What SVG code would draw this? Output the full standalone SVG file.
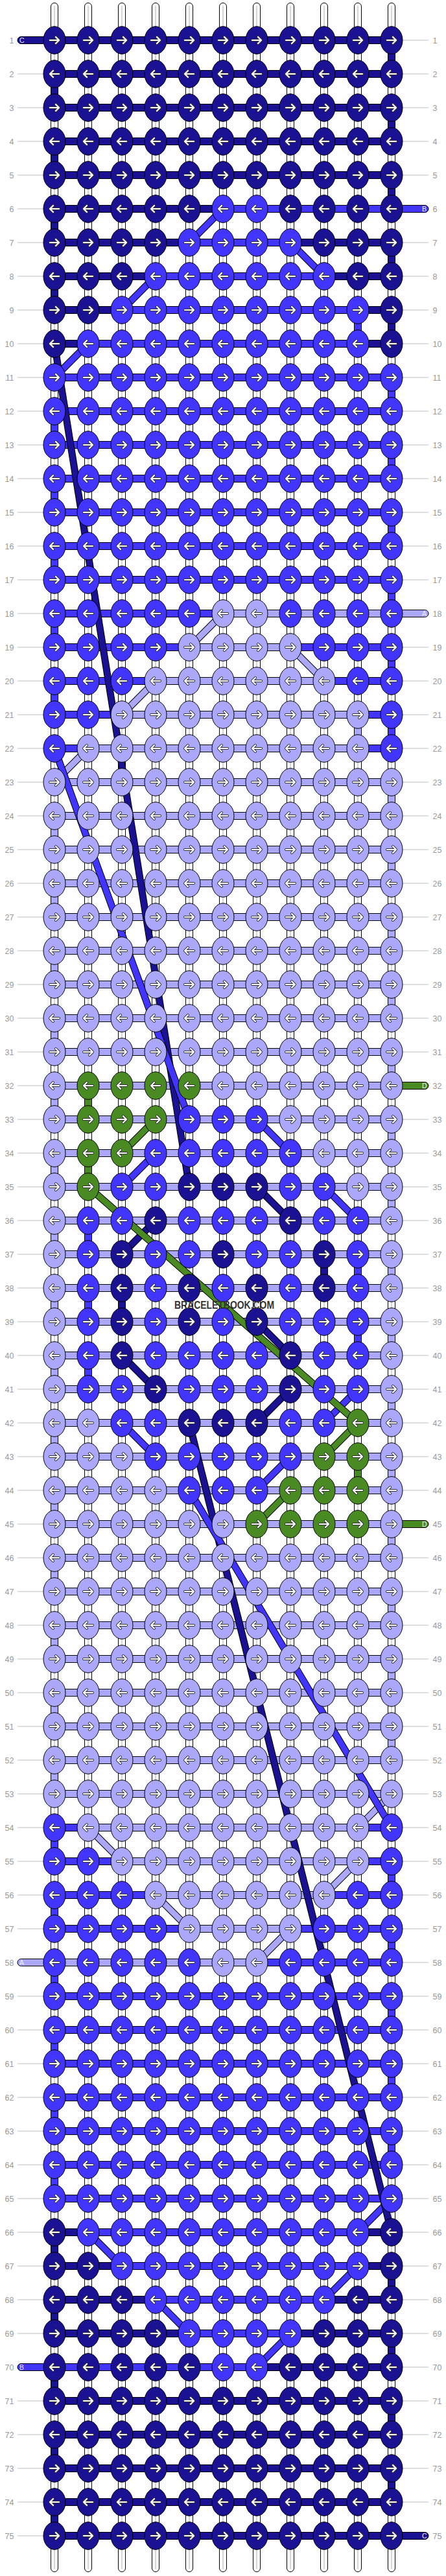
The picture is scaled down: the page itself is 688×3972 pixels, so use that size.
<svg xmlns="http://www.w3.org/2000/svg" width="688" height="3972" viewBox="0 0 688 3972">
<style>
.n{fill:#1b1193}.b{fill:#4236fe}.a{fill:#aba7fa}.d{fill:#4a8a22}
.ol{stroke:#000;stroke-width:11;fill:none}
.cn{stroke:#1b1193;stroke-width:9;fill:none}.cb{stroke:#4236fe;stroke-width:9;fill:none}.ca{stroke:#aba7fa;stroke-width:9;fill:none}.cd{stroke:#4a8a22;stroke-width:9;fill:none}
.lb{font-family:"Liberation Sans",Arial,sans-serif;font-size:12.5px;fill:#999}
.st{font-family:"Liberation Sans",Arial,sans-serif;font-size:10.5px;fill:#eeeeff}
.wm{font-family:"Liberation Sans",Arial,sans-serif;font-size:16px;font-weight:bold;fill:#333}
</style>
<defs>
<g id="R"><ellipse rx="17" ry="21.3" stroke="#000" stroke-width="1"/><path d="M-7,0H6.5M2,-5L7,0L2,5" fill="none" stroke="#333" stroke-width="4" stroke-linecap="round" stroke-linejoin="round"/><path d="M-7,0H6.5M2,-5L7,0L2,5" fill="none" stroke="#fff" stroke-width="2.2" stroke-linecap="round" stroke-linejoin="round"/></g>
<g id="L"><ellipse rx="17" ry="21.3" stroke="#000" stroke-width="1"/><path d="M7,0H-6.5M-2,-5L-7,0L-2,5" fill="none" stroke="#333" stroke-width="4" stroke-linecap="round" stroke-linejoin="round"/><path d="M7,0H-6.5M-2,-5L-7,0L-2,5" fill="none" stroke="#fff" stroke-width="2.2" stroke-linecap="round" stroke-linejoin="round"/></g>
<g id="rowR"><use href="#R" x="84"/><use href="#R" x="136"/><use href="#R" x="188"/><use href="#R" x="240"/><use href="#R" x="292"/><use href="#R" x="344"/><use href="#R" x="396"/><use href="#R" x="448"/><use href="#R" x="500"/><use href="#R" x="552"/><use href="#R" x="604"/></g>
<g id="rowL"><use href="#L" x="84"/><use href="#L" x="136"/><use href="#L" x="188"/><use href="#L" x="240"/><use href="#L" x="292"/><use href="#L" x="344"/><use href="#L" x="396"/><use href="#L" x="448"/><use href="#L" x="500"/><use href="#L" x="552"/><use href="#L" x="604"/></g>
<pattern id="lp" patternUnits="userSpaceOnUse" x="0" y="36" width="688" height="52"><rect x="0" y="25.5" width="688" height="1" fill="#c0c0c0"/></pattern>
</defs>
<rect width="688" height="3972" fill="#fff"/>
<g id="label-lines"><rect x="27" y="36" width="40" height="3900" fill="url(#lp)"/><rect x="621" y="36" width="40" height="3900" fill="url(#lp)"/></g>
<g id="labels-left" class="lb" text-anchor="end">
<text x="21.5" y="66.5">1</text><text x="21.5" y="118.5">2</text><text x="21.5" y="170.5">3</text><text x="21.5" y="222.5">4</text><text x="21.5" y="274.5">5</text><text x="21.5" y="326.5">6</text><text x="21.5" y="378.5">7</text><text x="21.5" y="430.5">8</text><text x="21.5" y="482.5">9</text><text x="21.5" y="534.5">10</text><text x="21.5" y="586.5">11</text><text x="21.5" y="638.5">12</text><text x="21.5" y="690.5">13</text><text x="21.5" y="742.5">14</text><text x="21.5" y="794.5">15</text><text x="21.5" y="846.5">16</text><text x="21.5" y="898.5">17</text><text x="21.5" y="950.5">18</text><text x="21.5" y="1002.5">19</text><text x="21.5" y="1054.5">20</text><text x="21.5" y="1106.5">21</text><text x="21.5" y="1158.5">22</text><text x="21.5" y="1210.5">23</text><text x="21.5" y="1262.5">24</text><text x="21.5" y="1314.5">25</text><text x="21.5" y="1366.5">26</text><text x="21.5" y="1418.5">27</text><text x="21.5" y="1470.5">28</text><text x="21.5" y="1522.5">29</text><text x="21.5" y="1574.5">30</text><text x="21.5" y="1626.5">31</text><text x="21.5" y="1678.5">32</text><text x="21.5" y="1730.5">33</text><text x="21.5" y="1782.5">34</text><text x="21.5" y="1834.5">35</text><text x="21.5" y="1886.5">36</text><text x="21.5" y="1938.5">37</text><text x="21.5" y="1990.5">38</text><text x="21.5" y="2042.5">39</text><text x="21.5" y="2094.5">40</text><text x="21.5" y="2146.5">41</text><text x="21.5" y="2198.5">42</text><text x="21.5" y="2250.5">43</text><text x="21.5" y="2302.5">44</text><text x="21.5" y="2354.5">45</text><text x="21.5" y="2406.5">46</text><text x="21.5" y="2458.5">47</text><text x="21.5" y="2510.5">48</text><text x="21.5" y="2562.5">49</text><text x="21.5" y="2614.5">50</text><text x="21.5" y="2666.5">51</text><text x="21.5" y="2718.5">52</text><text x="21.5" y="2770.5">53</text><text x="21.5" y="2822.5">54</text><text x="21.5" y="2874.5">55</text><text x="21.5" y="2926.5">56</text><text x="21.5" y="2978.5">57</text><text x="21.5" y="3030.5">58</text><text x="21.5" y="3082.5">59</text><text x="21.5" y="3134.5">60</text><text x="21.5" y="3186.5">61</text><text x="21.5" y="3238.5">62</text><text x="21.5" y="3290.5">63</text><text x="21.5" y="3342.5">64</text><text x="21.5" y="3394.5">65</text><text x="21.5" y="3446.5">66</text><text x="21.5" y="3498.5">67</text><text x="21.5" y="3550.5">68</text><text x="21.5" y="3602.5">69</text><text x="21.5" y="3654.5">70</text><text x="21.5" y="3706.5">71</text><text x="21.5" y="3758.5">72</text><text x="21.5" y="3810.5">73</text><text x="21.5" y="3862.5">74</text><text x="21.5" y="3914.5">75</text>
</g>
<g id="labels-right" class="lb">
<text x="667.5" y="66.5">1</text><text x="667.5" y="118.5">2</text><text x="667.5" y="170.5">3</text><text x="667.5" y="222.5">4</text><text x="667.5" y="274.5">5</text><text x="667.5" y="326.5">6</text><text x="667.5" y="378.5">7</text><text x="667.5" y="430.5">8</text><text x="667.5" y="482.5">9</text><text x="667.5" y="534.5">10</text><text x="667.5" y="586.5">11</text><text x="667.5" y="638.5">12</text><text x="667.5" y="690.5">13</text><text x="667.5" y="742.5">14</text><text x="667.5" y="794.5">15</text><text x="667.5" y="846.5">16</text><text x="667.5" y="898.5">17</text><text x="667.5" y="950.5">18</text><text x="667.5" y="1002.5">19</text><text x="667.5" y="1054.5">20</text><text x="667.5" y="1106.5">21</text><text x="667.5" y="1158.5">22</text><text x="667.5" y="1210.5">23</text><text x="667.5" y="1262.5">24</text><text x="667.5" y="1314.5">25</text><text x="667.5" y="1366.5">26</text><text x="667.5" y="1418.5">27</text><text x="667.5" y="1470.5">28</text><text x="667.5" y="1522.5">29</text><text x="667.5" y="1574.5">30</text><text x="667.5" y="1626.5">31</text><text x="667.5" y="1678.5">32</text><text x="667.5" y="1730.5">33</text><text x="667.5" y="1782.5">34</text><text x="667.5" y="1834.5">35</text><text x="667.5" y="1886.5">36</text><text x="667.5" y="1938.5">37</text><text x="667.5" y="1990.5">38</text><text x="667.5" y="2042.5">39</text><text x="667.5" y="2094.5">40</text><text x="667.5" y="2146.5">41</text><text x="667.5" y="2198.5">42</text><text x="667.5" y="2250.5">43</text><text x="667.5" y="2302.5">44</text><text x="667.5" y="2354.5">45</text><text x="667.5" y="2406.5">46</text><text x="667.5" y="2458.5">47</text><text x="667.5" y="2510.5">48</text><text x="667.5" y="2562.5">49</text><text x="667.5" y="2614.5">50</text><text x="667.5" y="2666.5">51</text><text x="667.5" y="2718.5">52</text><text x="667.5" y="2770.5">53</text><text x="667.5" y="2822.5">54</text><text x="667.5" y="2874.5">55</text><text x="667.5" y="2926.5">56</text><text x="667.5" y="2978.5">57</text><text x="667.5" y="3030.5">58</text><text x="667.5" y="3082.5">59</text><text x="667.5" y="3134.5">60</text><text x="667.5" y="3186.5">61</text><text x="667.5" y="3238.5">62</text><text x="667.5" y="3290.5">63</text><text x="667.5" y="3342.5">64</text><text x="667.5" y="3394.5">65</text><text x="667.5" y="3446.5">66</text><text x="667.5" y="3498.5">67</text><text x="667.5" y="3550.5">68</text><text x="667.5" y="3602.5">69</text><text x="667.5" y="3654.5">70</text><text x="667.5" y="3706.5">71</text><text x="667.5" y="3758.5">72</text><text x="667.5" y="3810.5">73</text><text x="667.5" y="3862.5">74</text><text x="667.5" y="3914.5">75</text>
</g>
<g id="connectors" stroke="#000" stroke-width="1">
<g id="strands" fill="#fff">
<rect x="78.5" y="4.5" width="11" height="3961" rx="5.5"/><rect x="130.5" y="4.5" width="11" height="3961" rx="5.5"/><rect x="182.5" y="4.5" width="11" height="3961" rx="5.5"/><rect x="234.5" y="4.5" width="11" height="3961" rx="5.5"/><rect x="286.5" y="4.5" width="11" height="3961" rx="5.5"/><rect x="338.5" y="4.5" width="11" height="3961" rx="5.5"/><rect x="390.5" y="4.5" width="11" height="3961" rx="5.5"/><rect x="442.5" y="4.5" width="11" height="3961" rx="5.5"/><rect x="494.5" y="4.5" width="11" height="3961" rx="5.5"/><rect x="546.5" y="4.5" width="11" height="3961" rx="5.5"/><rect x="598.5" y="4.5" width="11" height="3961" rx="5.5"/>
<path stroke="#aaa" fill="none" d="M84,9V3961M136,9V3961M188,9V3961M240,9V3961M292,9V3961M344,9V3961M396,9V3961M448,9V3961M500,9V3961M552,9V3961M604,9V3961"/>
</g>
<g id="turns">
<path class="n" d="M598.5,62h11v52h-11zM78.5,114h11v52h-11zM598.5,166h11v52h-11zM78.5,218h11v52h-11zM598.5,270h11v52h-11zM78.5,322h11v52h-11zM598.5,374h11v52h-11zM78.5,426h11v52h-11zM598.5,478h11v52h-11zM494.5,1934h11v52h-11zM182.5,1986h11v52h-11zM78.5,3442h11v52h-11zM598.5,3494h11v52h-11zM78.5,3546h11v52h-11zM598.5,3598h11v52h-11zM78.5,3650h11v52h-11zM598.5,3702h11v52h-11zM78.5,3754h11v52h-11zM598.5,3806h11v52h-11zM78.5,3858h11v52h-11z"/>
<path class="b" d="M546.5,478h11v52h-11zM598.5,582h11v52h-11zM78.5,634h11v52h-11zM598.5,686h11v52h-11zM78.5,738h11v52h-11zM598.5,790h11v52h-11zM78.5,842h11v52h-11zM598.5,894h11v52h-11zM78.5,946h11v52h-11zM598.5,998h11v52h-11zM78.5,1050h11v52h-11zM598.5,1102h11v52h-11zM130.5,1882h11v52h-11zM546.5,1934h11v52h-11zM130.5,1986h11v52h-11zM546.5,2038h11v52h-11zM130.5,2090h11v52h-11zM78.5,2818h11v52h-11zM598.5,2870h11v52h-11zM78.5,2922h11v52h-11zM598.5,2974h11v52h-11zM78.5,3026h11v52h-11zM598.5,3078h11v52h-11zM78.5,3130h11v52h-11zM598.5,3182h11v52h-11zM78.5,3234h11v52h-11zM598.5,3286h11v52h-11zM78.5,3338h11v52h-11z"/>
<path class="a" d="M546.5,1102h11v52h-11zM598.5,1206h11v52h-11zM78.5,1258h11v52h-11zM598.5,1310h11v52h-11zM78.5,1362h11v52h-11zM598.5,1414h11v52h-11zM78.5,1466h11v52h-11zM598.5,1518h11v52h-11zM78.5,1570h11v52h-11zM598.5,1622h11v52h-11zM78.5,1674h11v52h-11zM598.5,1726h11v52h-11zM78.5,1778h11v52h-11zM598.5,1830h11v52h-11zM78.5,1882h11v52h-11zM598.5,1934h11v52h-11zM78.5,1986h11v52h-11zM598.5,2038h11v52h-11zM78.5,2090h11v52h-11zM598.5,2142h11v52h-11zM78.5,2194h11v52h-11zM598.5,2246h11v52h-11zM78.5,2298h11v52h-11zM598.5,2350h11v52h-11zM78.5,2402h11v52h-11zM598.5,2454h11v52h-11zM78.5,2506h11v52h-11zM598.5,2558h11v52h-11zM78.5,2610h11v52h-11zM598.5,2662h11v52h-11zM78.5,2714h11v52h-11z"/>
<path class="d" d="M130.5,1674h11v52h-11zM130.5,1778h11v52h-11zM546.5,2246h11v52h-11z"/>
</g>
<g id="rows-threads">
<path class="n" d="M84,56.5h520v11h-520zM84,108.5h520v11h-520zM84,160.5h520v11h-520zM84,212.5h520v11h-520zM84,264.5h520v11h-520zM84,316.5h260v11h-260zM84,368.5h208v11h-208zM448,368.5h156v11h-156zM84,420.5h156v11h-156zM500,420.5h104v11h-104zM84,472.5h104v11h-104zM552,472.5h52v11h-52zM84,524.5h52v11h-52zM552,524.5h52v11h-52zM84,3436.5h52v11h-52zM552,3436.5h52v11h-52zM84,3488.5h104v11h-104zM552,3488.5h52v11h-52zM84,3540.5h156v11h-156zM500,3540.5h104v11h-104zM84,3592.5h208v11h-208zM448,3592.5h156v11h-156zM396,3644.5h208v11h-208zM84,3696.5h520v11h-520zM84,3748.5h520v11h-520zM84,3800.5h520v11h-520zM84,3852.5h520v11h-520zM84,3904.5h520v11h-520z"/>
<path class="b" d="M344,316.5h260v11h-260zM292,368.5h156v11h-156zM240,420.5h260v11h-260zM188,472.5h364v11h-364zM136,524.5h416v11h-416zM84,576.5h520v11h-520zM84,628.5h520v11h-520zM84,680.5h520v11h-520zM84,732.5h520v11h-520zM84,784.5h520v11h-520zM84,836.5h520v11h-520zM84,888.5h520v11h-520zM84,940.5h260v11h-260zM84,992.5h208v11h-208zM448,992.5h156v11h-156zM84,1044.5h156v11h-156zM500,1044.5h104v11h-104zM84,1096.5h104v11h-104zM552,1096.5h52v11h-52zM84,1148.5h52v11h-52zM552,1148.5h52v11h-52zM84,2812.5h52v11h-52zM552,2812.5h52v11h-52zM84,2864.5h104v11h-104zM552,2864.5h52v11h-52zM84,2916.5h156v11h-156zM500,2916.5h104v11h-104zM84,2968.5h208v11h-208zM448,2968.5h156v11h-156zM396,3020.5h208v11h-208zM84,3072.5h520v11h-520zM84,3124.5h520v11h-520zM84,3176.5h520v11h-520zM84,3228.5h520v11h-520zM84,3280.5h520v11h-520zM84,3332.5h520v11h-520zM84,3384.5h520v11h-520zM136,3436.5h416v11h-416zM188,3488.5h364v11h-364zM240,3540.5h260v11h-260zM292,3592.5h156v11h-156zM84,3644.5h312v11h-312z"/>
<path class="a" d="M344,940.5h260v11h-260zM292,992.5h156v11h-156zM240,1044.5h260v11h-260zM188,1096.5h364v11h-364zM136,1148.5h416v11h-416zM84,1200.5h520v11h-520zM84,1252.5h520v11h-520zM84,1304.5h520v11h-520zM84,1356.5h520v11h-520zM84,1408.5h520v11h-520zM84,1460.5h520v11h-520zM84,1512.5h520v11h-520zM84,1564.5h520v11h-520zM84,1616.5h520v11h-520zM84,1668.5h520v11h-520zM84,1720.5h520v11h-520zM84,1772.5h520v11h-520zM84,1824.5h520v11h-520zM84,1876.5h520v11h-520zM84,1928.5h520v11h-520zM84,1980.5h520v11h-520zM84,2032.5h520v11h-520zM84,2084.5h520v11h-520zM84,2136.5h520v11h-520zM84,2188.5h520v11h-520zM84,2240.5h520v11h-520zM84,2292.5h520v11h-520zM84,2344.5h520v11h-520zM84,2396.5h520v11h-520zM84,2448.5h520v11h-520zM84,2500.5h520v11h-520zM84,2552.5h520v11h-520zM84,2604.5h520v11h-520zM84,2656.5h520v11h-520zM84,2708.5h520v11h-520zM84,2760.5h520v11h-520zM136,2812.5h416v11h-416zM188,2864.5h364v11h-364zM240,2916.5h260v11h-260zM292,2968.5h156v11h-156zM84,3020.5h312v11h-312z"/>
</g>
<g id="stubs">
<path class="n" d="M84,56.5H32.5a5.5,5.5 0 0 0 0,11H84z"/>
<path class="b" d="M604,316.5H655.5a5.5,5.5 0 0 1 0,11H604z"/>
<path class="a" d="M604,940.5H655.5a5.5,5.5 0 0 1 0,11H604z"/>
<path class="d" d="M604,1668.5H655.5a5.5,5.5 0 0 1 0,11H604z"/>
<path class="d" d="M604,2344.5H655.5a5.5,5.5 0 0 1 0,11H604z"/>
<path class="a" d="M84,3020.5H32.5a5.5,5.5 0 0 0 0,11H84z"/>
<path class="b" d="M84,3644.5H32.5a5.5,5.5 0 0 0 0,11H84z"/>
<path class="n" d="M604,3904.5H655.5a5.5,5.5 0 0 1 0,11H604z"/>
</g>
<g id="diagonals">
<path class="ol" d="M344,322L292,374M448,374L500,426M240,426L188,478M136,530L84,582M396,1726L448,1778M240,1778L188,1830M500,1830L552,1882M552,2142L500,2194M188,2194L240,2246M448,2246L396,2298M604,3390L552,3442M136,3442L188,3494M552,3494L500,3546M240,3546L292,3598M448,3598L396,3650M344,946L292,998M448,998L500,1050M240,1050L188,1102M136,1154L84,1206M604,2766L552,2818M136,2818L188,2870M552,2870L500,2922M240,2922L292,2974M448,2974L396,3026M240,1726L188,1778M552,2194L500,2246M448,2298L396,2350M396,1830L448,1882M240,1882L188,1934M396,2038L448,2090M188,2090L240,2142M448,2142L396,2194"/>
<path class="cb" d="M344,322L292,374M448,374L500,426M240,426L188,478M136,530L84,582M396,1726L448,1778M240,1778L188,1830M500,1830L552,1882M552,2142L500,2194M188,2194L240,2246M448,2246L396,2298M604,3390L552,3442M136,3442L188,3494M552,3494L500,3546M240,3546L292,3598M448,3598L396,3650"/>
<path class="ca" d="M344,946L292,998M448,998L500,1050M240,1050L188,1102M136,1154L84,1206M604,2766L552,2818M136,2818L188,2870M552,2870L500,2922M240,2922L292,2974M448,2974L396,3026"/>
<path class="cd" d="M240,1726L188,1778M552,2194L500,2246M448,2298L396,2350"/>
<path class="cn" d="M396,1830L448,1882M240,1882L188,1934M396,2038L448,2090M188,2090L240,2142M448,2142L396,2194"/>
</g>
<g id="carried">
<path class="ol" d="M84,530L292,1830"/><path class="cn" d="M84,530L292,1830"/>
<path class="ol" d="M84,1154L292,1726"/><path class="cb" d="M84,1154L292,1726"/>
<path class="ol" d="M136,1830L552,2194"/><path class="cd" d="M136,1830L552,2194"/>
<path class="ol" d="M292,2194L604,3442"/><path class="cn" d="M292,2194L604,3442"/>
<path class="ol" d="M292,2298L604,2818"/><path class="cb" d="M292,2298L604,2818"/>
</g>
</g>
<g id="stub-letters" class="st">
<text x="30" y="65.8">C</text><text x="651" y="325.8">B</text><text x="651" y="949.8">A</text><text x="651" y="1677.8">D</text><text x="651" y="2353.8">D</text><text x="30" y="3029.8">A</text><text x="30" y="3653.8">B</text><text x="651" y="3913.8">C</text>
</g>
<g id="knots">
<use id="row1" href="#rowR" y="62" class="n"/>
<use id="row2" href="#rowL" y="114" class="n"/>
<use id="row3" href="#rowR" y="166" class="n"/>
<use id="row4" href="#rowL" y="218" class="n"/>
<use id="row5" href="#rowR" y="270" class="n"/>
<g id="row6" class="n" transform="translate(0,322)"><use href="#L" x="84"/><use href="#L" x="136"/><use href="#L" x="188"/><use href="#L" x="240"/><use href="#L" x="292"/><use href="#L" x="344" class="b"/><use href="#L" x="396" class="b"/><use href="#L" x="448"/><use href="#L" x="500"/><use href="#L" x="552"/><use href="#L" x="604"/></g>
<g id="row7" class="n" transform="translate(0,374)"><use href="#R" x="84"/><use href="#R" x="136"/><use href="#R" x="188"/><use href="#R" x="240"/><use href="#R" x="292" class="b"/><use href="#R" x="344" class="b"/><use href="#R" x="396" class="b"/><use href="#R" x="448" class="b"/><use href="#R" x="500"/><use href="#R" x="552"/><use href="#R" x="604"/></g>
<g id="row8" class="n" transform="translate(0,426)"><use href="#L" x="84"/><use href="#L" x="136"/><use href="#L" x="188"/><use href="#L" x="240" class="b"/><use href="#L" x="292" class="b"/><use href="#L" x="344" class="b"/><use href="#L" x="396" class="b"/><use href="#L" x="448" class="b"/><use href="#L" x="500" class="b"/><use href="#L" x="552"/><use href="#L" x="604"/></g>
<g id="row9" class="b" transform="translate(0,478)"><use href="#R" x="84" class="n"/><use href="#R" x="136" class="n"/><use href="#R" x="188"/><use href="#R" x="240"/><use href="#R" x="292"/><use href="#R" x="344"/><use href="#R" x="396"/><use href="#R" x="448"/><use href="#R" x="500"/><use href="#R" x="552"/><use href="#R" x="604" class="n"/></g>
<g id="row10" class="b" transform="translate(0,530)"><use href="#L" x="84" class="n"/><use href="#L" x="136"/><use href="#L" x="188"/><use href="#L" x="240"/><use href="#L" x="292"/><use href="#L" x="344"/><use href="#L" x="396"/><use href="#L" x="448"/><use href="#L" x="500"/><use href="#L" x="552"/><use href="#L" x="604" class="n"/></g>
<use id="row11" href="#rowR" y="582" class="b"/>
<use id="row12" href="#rowL" y="634" class="b"/>
<use id="row13" href="#rowR" y="686" class="b"/>
<use id="row14" href="#rowL" y="738" class="b"/>
<use id="row15" href="#rowR" y="790" class="b"/>
<use id="row16" href="#rowL" y="842" class="b"/>
<use id="row17" href="#rowR" y="894" class="b"/>
<g id="row18" class="b" transform="translate(0,946)"><use href="#L" x="84"/><use href="#L" x="136"/><use href="#L" x="188"/><use href="#L" x="240"/><use href="#L" x="292"/><use href="#L" x="344" class="a"/><use href="#L" x="396" class="a"/><use href="#L" x="448"/><use href="#L" x="500"/><use href="#L" x="552"/><use href="#L" x="604"/></g>
<g id="row19" class="b" transform="translate(0,998)"><use href="#R" x="84"/><use href="#R" x="136"/><use href="#R" x="188"/><use href="#R" x="240"/><use href="#R" x="292" class="a"/><use href="#R" x="344" class="a"/><use href="#R" x="396" class="a"/><use href="#R" x="448" class="a"/><use href="#R" x="500"/><use href="#R" x="552"/><use href="#R" x="604"/></g>
<g id="row20" class="b" transform="translate(0,1050)"><use href="#L" x="84"/><use href="#L" x="136"/><use href="#L" x="188"/><use href="#L" x="240" class="a"/><use href="#L" x="292" class="a"/><use href="#L" x="344" class="a"/><use href="#L" x="396" class="a"/><use href="#L" x="448" class="a"/><use href="#L" x="500" class="a"/><use href="#L" x="552"/><use href="#L" x="604"/></g>
<g id="row21" class="a" transform="translate(0,1102)"><use href="#R" x="84" class="b"/><use href="#R" x="136" class="b"/><use href="#R" x="188"/><use href="#R" x="240"/><use href="#R" x="292"/><use href="#R" x="344"/><use href="#R" x="396"/><use href="#R" x="448"/><use href="#R" x="500"/><use href="#R" x="552"/><use href="#R" x="604" class="b"/></g>
<g id="row22" class="a" transform="translate(0,1154)"><use href="#L" x="84" class="b"/><use href="#L" x="136"/><use href="#L" x="188"/><use href="#L" x="240"/><use href="#L" x="292"/><use href="#L" x="344"/><use href="#L" x="396"/><use href="#L" x="448"/><use href="#L" x="500"/><use href="#L" x="552"/><use href="#L" x="604" class="b"/></g>
<use id="row23" href="#rowR" y="1206" class="a"/>
<use id="row24" href="#rowL" y="1258" class="a"/>
<use id="row25" href="#rowR" y="1310" class="a"/>
<use id="row26" href="#rowL" y="1362" class="a"/>
<use id="row27" href="#rowR" y="1414" class="a"/>
<use id="row28" href="#rowL" y="1466" class="a"/>
<use id="row29" href="#rowR" y="1518" class="a"/>
<use id="row30" href="#rowL" y="1570" class="a"/>
<use id="row31" href="#rowR" y="1622" class="a"/>
<g id="row32" class="a" transform="translate(0,1674)"><use href="#L" x="84"/><use href="#L" x="136" class="d"/><use href="#L" x="188" class="d"/><use href="#L" x="240" class="d"/><use href="#L" x="292" class="d"/><use href="#L" x="344"/><use href="#L" x="396"/><use href="#L" x="448"/><use href="#L" x="500"/><use href="#L" x="552"/><use href="#L" x="604"/></g>
<g id="row33" class="a" transform="translate(0,1726)"><use href="#R" x="84"/><use href="#R" x="136" class="d"/><use href="#R" x="188" class="d"/><use href="#R" x="240" class="d"/><use href="#R" x="292" class="b"/><use href="#R" x="344" class="b"/><use href="#R" x="396" class="b"/><use href="#R" x="448"/><use href="#R" x="500"/><use href="#R" x="552"/><use href="#R" x="604"/></g>
<g id="row34" class="a" transform="translate(0,1778)"><use href="#L" x="84"/><use href="#L" x="136" class="d"/><use href="#L" x="188" class="d"/><use href="#L" x="240" class="b"/><use href="#L" x="292" class="b"/><use href="#L" x="344" class="b"/><use href="#L" x="396" class="b"/><use href="#L" x="448" class="b"/><use href="#L" x="500"/><use href="#L" x="552"/><use href="#L" x="604"/></g>
<g id="row35" class="a" transform="translate(0,1830)"><use href="#R" x="84"/><use href="#R" x="136" class="d"/><use href="#R" x="188" class="b"/><use href="#R" x="240" class="b"/><use href="#R" x="292" class="n"/><use href="#R" x="344" class="n"/><use href="#R" x="396" class="n"/><use href="#R" x="448" class="b"/><use href="#R" x="500" class="b"/><use href="#R" x="552"/><use href="#R" x="604"/></g>
<g id="row36" class="b" transform="translate(0,1882)"><use href="#L" x="84" class="a"/><use href="#L" x="136"/><use href="#L" x="188"/><use href="#L" x="240" class="n"/><use href="#L" x="292"/><use href="#L" x="344"/><use href="#L" x="396"/><use href="#L" x="448" class="n"/><use href="#L" x="500"/><use href="#L" x="552"/><use href="#L" x="604" class="a"/></g>
<g id="row37" class="b" transform="translate(0,1934)"><use href="#R" x="84" class="a"/><use href="#R" x="136"/><use href="#R" x="188" class="n"/><use href="#R" x="240"/><use href="#R" x="292"/><use href="#R" x="344" class="n"/><use href="#R" x="396"/><use href="#R" x="448"/><use href="#R" x="500" class="n"/><use href="#R" x="552"/><use href="#R" x="604" class="a"/></g>
<g id="row38" class="b" transform="translate(0,1986)"><use href="#L" x="84" class="a"/><use href="#L" x="136"/><use href="#L" x="188" class="n"/><use href="#L" x="240"/><use href="#L" x="292" class="n"/><use href="#L" x="344"/><use href="#L" x="396" class="n"/><use href="#L" x="448"/><use href="#L" x="500" class="n"/><use href="#L" x="552"/><use href="#L" x="604" class="a"/></g>
<g id="row39" class="b" transform="translate(0,2038)"><use href="#R" x="84" class="a"/><use href="#R" x="136"/><use href="#R" x="188" class="n"/><use href="#R" x="240"/><use href="#R" x="292" class="n"/><use href="#R" x="344"/><use href="#R" x="396" class="n"/><use href="#R" x="448"/><use href="#R" x="500"/><use href="#R" x="552"/><use href="#R" x="604" class="a"/></g>
<g id="row40" class="b" transform="translate(0,2090)"><use href="#L" x="84" class="a"/><use href="#L" x="136"/><use href="#L" x="188" class="n"/><use href="#L" x="240"/><use href="#L" x="292"/><use href="#L" x="344"/><use href="#L" x="396"/><use href="#L" x="448" class="n"/><use href="#L" x="500"/><use href="#L" x="552"/><use href="#L" x="604" class="a"/></g>
<g id="row41" class="b" transform="translate(0,2142)"><use href="#R" x="84" class="a"/><use href="#R" x="136"/><use href="#R" x="188"/><use href="#R" x="240" class="n"/><use href="#R" x="292"/><use href="#R" x="344"/><use href="#R" x="396"/><use href="#R" x="448" class="n"/><use href="#R" x="500"/><use href="#R" x="552"/><use href="#R" x="604" class="a"/></g>
<g id="row42" class="b" transform="translate(0,2194)"><use href="#L" x="84" class="a"/><use href="#L" x="136" class="a"/><use href="#L" x="188"/><use href="#L" x="240"/><use href="#L" x="292" class="n"/><use href="#L" x="344" class="n"/><use href="#L" x="396" class="n"/><use href="#L" x="448"/><use href="#L" x="500"/><use href="#L" x="552" class="d"/><use href="#L" x="604" class="a"/></g>
<g id="row43" class="b" transform="translate(0,2246)"><use href="#R" x="84" class="a"/><use href="#R" x="136" class="a"/><use href="#R" x="188" class="a"/><use href="#R" x="240"/><use href="#R" x="292"/><use href="#R" x="344"/><use href="#R" x="396"/><use href="#R" x="448"/><use href="#R" x="500" class="d"/><use href="#R" x="552" class="d"/><use href="#R" x="604" class="a"/></g>
<g id="row44" class="a" transform="translate(0,2298)"><use href="#L" x="84"/><use href="#L" x="136"/><use href="#L" x="188"/><use href="#L" x="240"/><use href="#L" x="292" class="b"/><use href="#L" x="344" class="b"/><use href="#L" x="396" class="b"/><use href="#L" x="448" class="d"/><use href="#L" x="500" class="d"/><use href="#L" x="552" class="d"/><use href="#L" x="604"/></g>
<g id="row45" class="a" transform="translate(0,2350)"><use href="#R" x="84"/><use href="#R" x="136"/><use href="#R" x="188"/><use href="#R" x="240"/><use href="#R" x="292"/><use href="#R" x="344"/><use href="#R" x="396" class="d"/><use href="#R" x="448" class="d"/><use href="#R" x="500" class="d"/><use href="#R" x="552" class="d"/><use href="#R" x="604"/></g>
<use id="row46" href="#rowL" y="2402" class="a"/>
<use id="row47" href="#rowR" y="2454" class="a"/>
<use id="row48" href="#rowL" y="2506" class="a"/>
<use id="row49" href="#rowR" y="2558" class="a"/>
<use id="row50" href="#rowL" y="2610" class="a"/>
<use id="row51" href="#rowR" y="2662" class="a"/>
<use id="row52" href="#rowL" y="2714" class="a"/>
<use id="row53" href="#rowR" y="2766" class="a"/>
<g id="row54" class="a" transform="translate(0,2818)"><use href="#L" x="84" class="b"/><use href="#L" x="136"/><use href="#L" x="188"/><use href="#L" x="240"/><use href="#L" x="292"/><use href="#L" x="344"/><use href="#L" x="396"/><use href="#L" x="448"/><use href="#L" x="500"/><use href="#L" x="552"/><use href="#L" x="604" class="b"/></g>
<g id="row55" class="a" transform="translate(0,2870)"><use href="#R" x="84" class="b"/><use href="#R" x="136" class="b"/><use href="#R" x="188"/><use href="#R" x="240"/><use href="#R" x="292"/><use href="#R" x="344"/><use href="#R" x="396"/><use href="#R" x="448"/><use href="#R" x="500"/><use href="#R" x="552"/><use href="#R" x="604" class="b"/></g>
<g id="row56" class="b" transform="translate(0,2922)"><use href="#L" x="84"/><use href="#L" x="136"/><use href="#L" x="188"/><use href="#L" x="240" class="a"/><use href="#L" x="292" class="a"/><use href="#L" x="344" class="a"/><use href="#L" x="396" class="a"/><use href="#L" x="448" class="a"/><use href="#L" x="500" class="a"/><use href="#L" x="552"/><use href="#L" x="604"/></g>
<g id="row57" class="b" transform="translate(0,2974)"><use href="#R" x="84"/><use href="#R" x="136"/><use href="#R" x="188"/><use href="#R" x="240"/><use href="#R" x="292" class="a"/><use href="#R" x="344" class="a"/><use href="#R" x="396" class="a"/><use href="#R" x="448" class="a"/><use href="#R" x="500"/><use href="#R" x="552"/><use href="#R" x="604"/></g>
<g id="row58" class="b" transform="translate(0,3026)"><use href="#L" x="84"/><use href="#L" x="136"/><use href="#L" x="188"/><use href="#L" x="240"/><use href="#L" x="292"/><use href="#L" x="344" class="a"/><use href="#L" x="396" class="a"/><use href="#L" x="448"/><use href="#L" x="500"/><use href="#L" x="552"/><use href="#L" x="604"/></g>
<use id="row59" href="#rowR" y="3078" class="b"/>
<use id="row60" href="#rowL" y="3130" class="b"/>
<use id="row61" href="#rowR" y="3182" class="b"/>
<use id="row62" href="#rowL" y="3234" class="b"/>
<use id="row63" href="#rowR" y="3286" class="b"/>
<use id="row64" href="#rowL" y="3338" class="b"/>
<use id="row65" href="#rowR" y="3390" class="b"/>
<g id="row66" class="b" transform="translate(0,3442)"><use href="#L" x="84" class="n"/><use href="#L" x="136"/><use href="#L" x="188"/><use href="#L" x="240"/><use href="#L" x="292"/><use href="#L" x="344"/><use href="#L" x="396"/><use href="#L" x="448"/><use href="#L" x="500"/><use href="#L" x="552"/><use href="#L" x="604" class="n"/></g>
<g id="row67" class="b" transform="translate(0,3494)"><use href="#R" x="84" class="n"/><use href="#R" x="136" class="n"/><use href="#R" x="188"/><use href="#R" x="240"/><use href="#R" x="292"/><use href="#R" x="344"/><use href="#R" x="396"/><use href="#R" x="448"/><use href="#R" x="500"/><use href="#R" x="552"/><use href="#R" x="604" class="n"/></g>
<g id="row68" class="n" transform="translate(0,3546)"><use href="#L" x="84"/><use href="#L" x="136"/><use href="#L" x="188"/><use href="#L" x="240" class="b"/><use href="#L" x="292" class="b"/><use href="#L" x="344" class="b"/><use href="#L" x="396" class="b"/><use href="#L" x="448" class="b"/><use href="#L" x="500" class="b"/><use href="#L" x="552"/><use href="#L" x="604"/></g>
<g id="row69" class="n" transform="translate(0,3598)"><use href="#R" x="84"/><use href="#R" x="136"/><use href="#R" x="188"/><use href="#R" x="240"/><use href="#R" x="292" class="b"/><use href="#R" x="344" class="b"/><use href="#R" x="396" class="b"/><use href="#R" x="448" class="b"/><use href="#R" x="500"/><use href="#R" x="552"/><use href="#R" x="604"/></g>
<g id="row70" class="n" transform="translate(0,3650)"><use href="#L" x="84"/><use href="#L" x="136"/><use href="#L" x="188"/><use href="#L" x="240"/><use href="#L" x="292"/><use href="#L" x="344" class="b"/><use href="#L" x="396" class="b"/><use href="#L" x="448"/><use href="#L" x="500"/><use href="#L" x="552"/><use href="#L" x="604"/></g>
<use id="row71" href="#rowR" y="3702" class="n"/>
<use id="row72" href="#rowL" y="3754" class="n"/>
<use id="row73" href="#rowR" y="3806" class="n"/>
<use id="row74" href="#rowL" y="3858" class="n"/>
<use id="row75" href="#rowR" y="3910" class="n"/>
</g>
<text class="wm" x="346" y="2017.5" text-anchor="middle" textLength="154" lengthAdjust="spacingAndGlyphs">BRACELETBOOK.COM</text>
</svg>
